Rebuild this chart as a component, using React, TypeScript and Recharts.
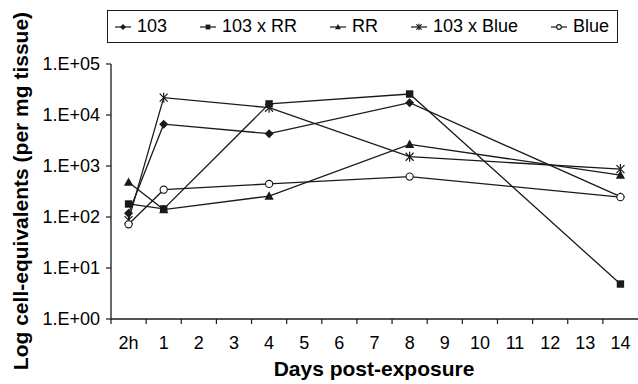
import React from 'react';
import { LineChart, Line, XAxis, YAxis, Legend } from 'recharts';

const tickLabels = ['2h', '1', '2', '3', '4', '5', '6', '7', '8', '9', '10', '11', '12', '13', '14'];
const sampleDays = ['2h', '1', '4', '8', '14'];
const s103 = [118, 6600, 4300, 17400, 250];
const s103RR = [180, 144, 16500, 25800, 4.85];
const sRR = [480, 140, 257, 2650, 665];
const s103Blue = [87, 21900, 13900, 1520, 870];
const sBlue = [72, 343, 445, 620, 245];
const yTicks = [1, 10, 100, 1000, 10000, 100000];

const W = 638;
const H = 384;
const PLOT_LEFT = 111;
const PLOT_TOP = 64;
const PLOT_BOTTOM = 319;
const FONT = '"Liberation Sans", Arial, sans-serif';
const INK = '#1a1a1a';

const data = sampleDays.map((d, i) => ({
  pos: tickLabels.indexOf(d),
  a: s103[i],
  b: s103RR[i],
  c: sRR[i],
  d: s103Blue[i],
  e: sBlue[i],
}));

type Shape = 'diamond' | 'square' | 'triangle' | 'star' | 'circle';

function Marker({ cx, cy, shape, k = 1 }: { cx: number; cy: number; shape: Shape; k?: number }) {
  if (cx == null || cy == null || isNaN(cx) || isNaN(cy)) return null;
  switch (shape) {
    case 'diamond':
      return <polygon points={`${cx},${cy - 4.5 * k} ${cx + 4.5 * k},${cy} ${cx},${cy + 4.5 * k} ${cx - 4.5 * k},${cy}`} fill={INK} />;
    case 'square':
      return <rect x={cx - 3.7 * k} y={cy - 3.7 * k} width={7.4 * k} height={7.4 * k} fill={INK} />;
    case 'triangle':
      return <polygon points={`${cx},${cy - 4.8 * k} ${cx + 4.6 * k},${cy + 3.6 * k} ${cx - 4.6 * k},${cy + 3.6 * k}`} fill={INK} />;
    case 'star':
      return (
        <g stroke={INK} strokeWidth={1.2}>
          <line x1={cx - 4 * k} y1={cy - 4 * k} x2={cx + 4 * k} y2={cy + 4 * k} />
          <line x1={cx - 4 * k} y1={cy + 4 * k} x2={cx + 4 * k} y2={cy - 4 * k} />
          <line x1={cx} y1={cy - 5 * k} x2={cx} y2={cy + 5 * k} />
        </g>
      );
    case 'circle':
      return <circle cx={cx} cy={cy} r={3.6 * k} fill="#fff" stroke={INK} strokeWidth={1.1} />;
  }
  return null;
}

const series: { key: string; name: string; shape: Shape }[] = [
  { key: 'a', name: '103', shape: 'diamond' },
  { key: 'b', name: '103 x RR', shape: 'square' },
  { key: 'c', name: 'RR', shape: 'triangle' },
  { key: 'd', name: '103 x Blue', shape: 'star' },
  { key: 'e', name: 'Blue', shape: 'circle' },
];
const drawOrder = ['c', 'a', 'b', 'd', 'e'];

const halfStep = (W - PLOT_LEFT) / tickLabels.length / 2;

function XTick(props: any) {
  const { x, payload } = props;
  const label = tickLabels[payload.value];
  return (
    <g>
      <line x1={x - halfStep} y1={PLOT_BOTTOM} x2={x - halfStep} y2={PLOT_BOTTOM + 5} stroke={INK} strokeWidth={1.2} />
      <text x={x} y={349} textAnchor="middle" fill="#000" fontSize={18} fontFamily={FONT}>
        {label}
      </text>
    </g>
  );
}

function LegendBox() {
  return (
    <div
      style={{
        width: 511,
        height: 33,
        boxSizing: 'border-box',
        border: `1.5px solid ${INK}`,
        background: '#fff',
        display: 'flex',
        alignItems: 'center',
        justifyContent: 'space-between',
        padding: '0 8px 0 7px',
        fontFamily: FONT,
        fontSize: 18,
        color: '#000',
      }}
    >
      {series.map((s) => (
        <div key={s.key} style={{ display: 'flex', alignItems: 'center' }}>
          <svg width={16} height={14} style={{ marginRight: 6 }}>
            <line x1={0} y1={7} x2={16} y2={7} stroke={INK} strokeWidth={1.2} />
            <Marker cx={8} cy={7} shape={s.shape} k={0.65} />
          </svg>
          <span style={{ whiteSpace: 'nowrap' }}>{s.name}</span>
        </div>
      ))}
    </div>
  );
}

export default function App() {
  return (
    <div style={{ position: 'fixed', left: 0, top: 0, width: W, height: H, background: '#fff' }}>
      <LineChart width={W} height={H} data={data} margin={{ top: PLOT_TOP, right: 0, bottom: 0, left: 0 }}>
        <XAxis
          dataKey="pos"
          type="number"
          domain={[-0.5, tickLabels.length - 0.5]}
          ticks={tickLabels.map((_, i) => i)}
          interval={0}
          height={H - PLOT_BOTTOM}
          tickLine={false}
          axisLine={{ stroke: INK, strokeWidth: 1.3 }}
          tick={<XTick />}
          label={{
            content: () => (
              <text x={374} y={376} textAnchor="middle" fontSize={21} fontWeight="bold" fontFamily={FONT} fill="#000">
                Days post-exposure
              </text>
            ),
          }}
        />
        <YAxis
          scale="log"
          domain={[1, 100000]}
          ticks={yTicks}
          interval={0}
          allowDataOverflow
          width={PLOT_LEFT}
          tickSize={5}
          tickMargin={6}
          tickLine={{ stroke: INK, strokeWidth: 1.2 }}
          axisLine={{ stroke: INK, strokeWidth: 1.3 }}
          tick={{ fill: '#000', fontSize: 18, fontFamily: FONT }}
          tickFormatter={(v: number) => `1.E+${String(Math.round(Math.log10(v))).padStart(2, '0')}`}
          label={{
            content: () => (
              <text
                x={28}
                y={191}
                transform="rotate(-90 28 191)"
                textAnchor="middle"
                fontSize={21}
                fontWeight="bold"
                fontFamily={FONT}
                fill="#000"
              >
                Log cell-equivalents (per mg tissue)
              </text>
            ),
          }}
        />
        <Legend
          layout="horizontal"
          verticalAlign="middle"
          align="center"
          wrapperStyle={{ left: 107, top: 10, width: 511 }}
          content={() => <LegendBox />}
        />
        {drawOrder.map((k) => {
          const s = series.find((x) => x.key === k)!;
          return (
            <Line
              key={s.key}
              dataKey={s.key}
              name={s.name}
              type="linear"
              stroke={INK}
              strokeWidth={1.3}
              isAnimationActive={false}
              dot={(p: any) => <Marker key={`${s.key}-${p.index}`} cx={p.cx} cy={p.cy} shape={s.shape} />}
              activeDot={false}
            />
          );
        })}
      </LineChart>
    </div>
  );
}
